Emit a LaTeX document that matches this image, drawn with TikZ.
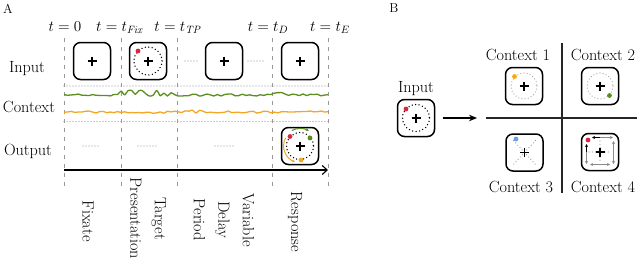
\documentclass[tikz,border=0pt]{standalone}
\usepackage{fix-cm}
\usetikzlibrary{arrows.meta,calc}
\definecolor{cred}{HTML}{D7263D}
\definecolor{cgreen}{HTML}{5B8E1F}
\definecolor{corange}{HTML}{F5A623}
\definecolor{cblue}{HTML}{6A9FE0}
\definecolor{cgray}{HTML}{999999}
\definecolor{dgray}{HTML}{8A8A8A}
\begin{document}
\begin{tikzpicture}[x=1pt,y=-1pt,
  font=\fontsize{16.2}{19}\selectfont,
  box/.style={draw, line width=1.5pt, rounded corners=7pt, minimum size=37pt, inner sep=0pt},
  cross/.style={line width=1.1pt},
  ring/.style={dash pattern=on 0pt off 3.5pt, line cap=round, line width=1.5pt},
  gring/.style={ring, cgray, line width=1.2pt, dash pattern=on 0pt off 3.2pt},
  vdash/.style={cgray, line width=1pt, dash pattern=on 4pt off 5pt},
  hdot/.style={cgray, line width=1.1pt, dash pattern=on 0pt off 3pt, line cap=round},
  phase/.style={rotate=-90, align=center, font=\fontsize{16.2}{24.5}\selectfont},
  tlab/.style={anchor=base, font=\fontsize{15.2}{18}\selectfont},
  rowlab/.style={anchor=base},
  panel/.style={font=\fontsize{13}{13}\selectfont},
  sarr/.style={-{Stealth[length=3pt,width=3pt]}, line width=1pt},
  darr/.style={{Stealth[length=3pt,width=3pt]}-{Stealth[length=3pt,width=3pt]}, line width=1pt, dgray}
]
\useasboundingbox (0,0) rectangle (640,268);
\newcommand{\fixcross}[1]{\draw[cross] ($(#1)+(-4.5,0)$) -- ($(#1)+(4.5,0)$); \draw[cross] ($(#1)+(0,-4.5)$) -- ($(#1)+(0,4.5)$);}

% ---------------- Panel A ----------------
\node[panel] (labA) at (8,9) {A};

\foreach \x in {64,121,177,272,328} \draw[vdash] (\x,38) -- (\x,188);

\node[tlab] (t0) at (65,31) {$t=0$};
\node[tlab] (t1) at (120,31) {$t=t_{\mathit{Fix}}$};
\node[tlab] (t2) at (178,31) {$t=t_{\mathit{TP}}$};
\node[tlab] (t3) at (268,31) {$t=t_{D}$};
\node[tlab] (t4) at (330,31) {$t=t_{E}$};

\node[rowlab] (linput) at (27,72) {Input};
\node[rowlab] (lcontext) at (29,112.5) {Context};
\node[rowlab] (loutput) at (28,155) {Output};

% input row
\node[box] (in1) at (92,61) {};
\node[box] (in2) at (148,61) {};
\node[box] (in3) at (224,61) {};
\node[box] (in4) at (300,61) {};
\fixcross{in1.center}\fixcross{in2.center}\fixcross{in3.center}\fixcross{in4.center}
\draw[ring] (in2.center) circle (14);
\fill[cred] (in2.center) ++(-10,-10) circle (2.4);
\draw[hdot] (185,61) -- (198,61);
\draw[hdot] (248,61) -- (263,61);

% context rows
\draw[hdot] (64,86) -- (328,86);
\draw[hdot] (64,121.5) -- (328,121.5);
\pgfmathsetseed{11}
\draw[cgreen, line width=1.3pt, line join=round] plot[smooth, tension=0.45, domain=64:328, samples=75]
  (\x, {95 + ifthenelse(and(\x>121,\x<177), 3.2*rand-1.5, ifthenelse(and(\x>265,\x<290),1.8*rand-0.7,1.1*rand))});
\draw[corange, line width=1.3pt, line join=round] plot[smooth, tension=0.45, domain=64:328, samples=75]
  (\x, {112 + ifthenelse(and(\x>150,\x<200), 1.8*rand-0.4, 1.0*rand)});

% output row
\draw[hdot] (83,146) -- (100,146);
\draw[hdot] (138,146) -- (158,146);
\draw[hdot] (215,146) -- (233,146);
\node[box] (out) at (300,146) {};
\fixcross{out.center}
\draw[ring] (out.center) circle (13.5);
\draw[cgreen, sarr] (out.center) ++(-118:17.5) arc[start angle=-118, end angle=-60, radius=17.5];
\draw[corange, sarr] (out.center) ++(-150:16.5) arc[start angle=-150, end angle=-252, radius=16.5];
\fill[cred] (out.center) ++(-10,-9.5) circle (2.4);
\fill[cgreen] (out.center) ++(10,-8) circle (2.4);
\fill[corange] (out.center) ++(1,14) circle (2.4);

% time axis
\coordinate (ax0) at (64,170);
\coordinate (ax1) at (328,170);
\draw[line width=1.1pt, -{Straight Barb[length=5pt,width=9pt]}] (ax0) -- (ax1);

% phase labels
\node[phase] (ph1) at (88,221) {Fixate};
\node[phase] (ph2) at (148,218.5) {Target\\Presentation};
\node[phase] (ph3) at (224,220) {Variable\\Delay\\Period};
\node[phase] (ph4) at (295,222) {Response};

% ---------------- Panel B ----------------
\node[panel] (labB) at (394,8) {B};
\node[rowlab] (binl) at (416,92) {Input};
\node[box] (bin) at (416,118) {};
\fixcross{bin.center}
\draw[ring] (bin.center) circle (13.5);
\fill[cred] (bin.center) ++(-10,-9) circle (2.4);
\coordinate (a1) at (477,118);
\draw[line width=1.3pt, shorten <=8pt, -{Stealth[length=8pt,width=6.5pt]}] (bin.east) -- (a1);

\coordinate (hq0) at (486,118);
\coordinate (hq1) at (637,118);
\coordinate (vq0) at (562,43);
\coordinate (vq1) at (562,193);
\draw[line width=1.2pt, black!85] (hq0) -- (hq1);
\draw[line width=1.2pt, black!85] (vq0) -- (vq1);

\node[rowlab] (lc1) at (518,60) {Context 1};
\node[rowlab] (lc2) at (603,60) {Context 2};
\node[rowlab] (lc3) at (521,192.5) {Context 3};
\node[rowlab] (lc4) at (603,192.5) {Context 4};

\node[box] (c1) at (524,86) {};
\node[box] (c2) at (600,86) {};
\node[box] (c3) at (524.5,152.5) {};
\node[box] (c4) at (600,152) {};

\draw[gring] (c1.center) circle (13);
\fill[corange] (c1.center) ++(-9.5,-9.5) circle (2.4);
\draw[gring] (c2.center) circle (13);
\fill[cgreen] (c2.center) ++(9.5,9.5) circle (2.4);

\begin{scope}[shift={(c3.center)}]
  \draw[gring] (-11,-12) -- (11,12);
  \draw[gring] (11,-12) -- (-11,12);
  \fill[cblue] (-8.5,-13.5) circle (2.4);
\end{scope}

\begin{scope}[shift={(c4.center)}]
  \draw[gring] (-11,0) -- (11,0);
  \draw[gring] (0,-11) -- (0,11);
  \draw[dgray, sarr] (-1,-14.5) -- (13,-14.5);
  \draw[black, sarr] (0,-14.5) -- (-8,-14.5);
  \draw[dgray, sarr] (-13.5,-1) -- (-13.5,12);
  \draw[black, sarr] (-13.5,0) -- (-13.5,-8);
  \draw[darr] (13.5,-11) -- (13.5,12);
  \draw[darr] (-10,12.5) -- (10,12.5);
  \fill[cred] (-12,-12) circle (2.4);
\end{scope}
\fixcross{c1.center}\fixcross{c2.center}\fixcross{c3.center}\fixcross{c4.center}
\end{tikzpicture}
\end{document}
